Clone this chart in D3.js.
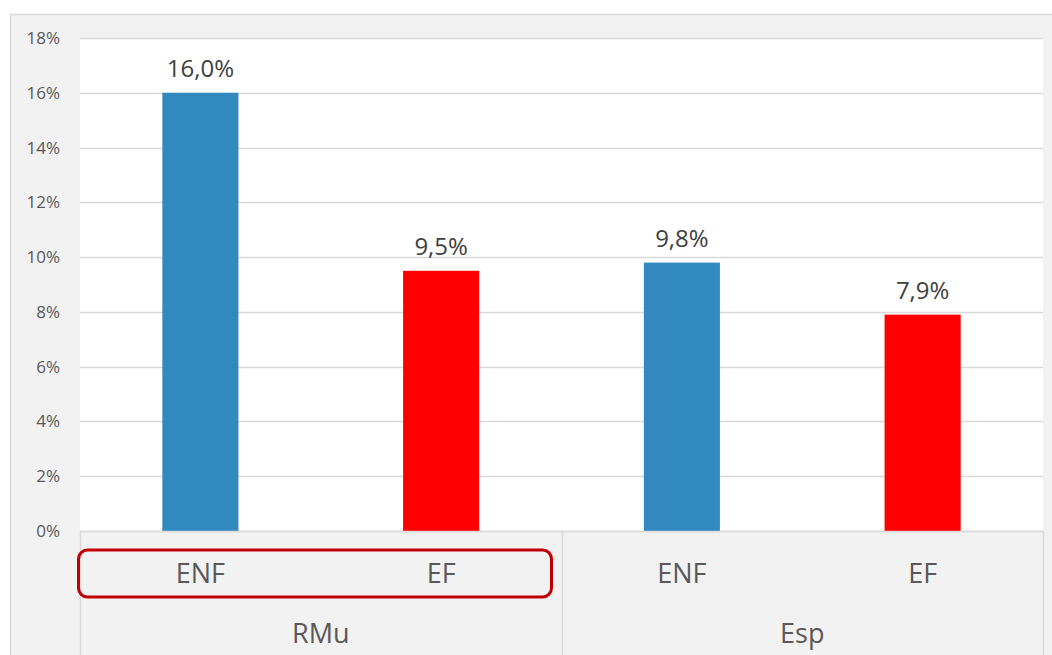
<!DOCTYPE html>
<html>
<head>
<meta charset="utf-8">
<script src="https://cdn.jsdelivr.net/npm/d3@7"></script>
<style>
  body { margin: 0; background: #ffffff; }
  svg { display: block; }
</style>
</head>
<body>
<div id="chart"></div>
<script>
// data
const groups = ["RMu", "Esp"];
const types = ["ENF", "EF"];
const enfValues = [16.0, 9.8];
const efValues = [9.5, 7.9];
const yTicks = [0, 2, 4, 6, 8, 10, 12, 14, 16, 18];
const typeColors = ["#3189bf", "#ff0000"];

const rows = [];
groups.forEach((g, i) => {
  rows.push({ group: g, type: "ENF", value: enfValues[i] });
  rows.push({ group: g, type: "EF", value: efValues[i] });
});

// dimensions
const width = 1052;
const height = 655;
const plot = { left: 80, right: 1043, top: 38, bottom: 531 };
const font = "'Open Sans', 'Noto Sans', sans-serif";

const svg = d3.select("#chart")
  .append("svg")
  .attr("width", width)
  .attr("height", height);

// chart area background
svg.append("rect")
  .attr("x", 10.5)
  .attr("y", 14.5)
  .attr("width", 1100)
  .attr("height", 700)
  .attr("fill", "#f2f2f2")
  .attr("stroke", "#d9d9d9")
  .attr("stroke-width", 1.5);

// plot area
svg.append("rect")
  .attr("x", plot.left)
  .attr("y", plot.top)
  .attr("width", plot.right - plot.left)
  .attr("height", plot.bottom - plot.top)
  .attr("fill", "#ffffff");

// scales
const x0 = d3.scaleBand()
  .domain(groups)
  .range([plot.left, plot.right]);

const x1 = d3.scaleBand()
  .domain(types)
  .range([0, x0.bandwidth()])
  .paddingInner(0.684)
  .paddingOuter(0.342);

const y = d3.scaleLinear()
  .domain([0, 18])
  .range([plot.bottom, plot.top]);

const color = d3.scaleOrdinal()
  .domain(types)
  .range(typeColors);

// grid lines
svg.append("g")
  .selectAll("line")
  .data(yTicks)
  .join("line")
  .attr("x1", plot.left)
  .attr("x2", plot.right)
  .attr("y1", d => Math.round(y(d)) + 0.5)
  .attr("y2", d => Math.round(y(d)) + 0.5)
  .attr("stroke", "#d9d9d9")
  .attr("stroke-width", 1.5);

// Y axis
const yAxis = svg.append("g")
  .attr("transform", `translate(${plot.left - 20}, 0)`)
  .call(d3.axisLeft(y)
    .tickValues(yTicks)
    .tickSize(0)
    .tickPadding(0)
    .tickFormat(d => d + "%"));
yAxis.select(".domain").remove();
yAxis.selectAll("text")
  .style("font-family", font)
  .style("font-size", "17px")
  .attr("fill", "#595959");

// bars
svg.append("g")
  .selectAll("rect")
  .data(rows)
  .join("rect")
  .attr("x", d => x0(d.group) + x1(d.type))
  .attr("y", d => y(d.value))
  .attr("width", x1.bandwidth())
  .attr("height", d => y(0) - y(d.value))
  .attr("fill", d => color(d.type));

// data labels
svg.append("g")
  .selectAll("text")
  .data(rows)
  .join("text")
  .attr("x", d => x0(d.group) + x1(d.type) + x1.bandwidth() / 2)
  .attr("y", d => y(d.value) - 16)
  .attr("text-anchor", "middle")
  .style("font-family", font)
  .style("font-size", "24px")
  .attr("fill", "#404040")
  .text(d => d.value.toFixed(1).replace(".", ",") + "%");

// category axis (two levels)
const axisG = svg.append("g");
axisG.append("line")
  .attr("x1", plot.left)
  .attr("x2", plot.right)
  .attr("y1", plot.bottom + 0.5)
  .attr("y2", plot.bottom + 0.5)
  .attr("stroke", "#d9d9d9")
  .attr("stroke-width", 1.5);

const dividers = groups.map(g => x0(g)).concat([plot.right]);
axisG.selectAll(".divider")
  .data(dividers)
  .join("line")
  .attr("class", "divider")
  .attr("x1", d => Math.round(d) + 0.5)
  .attr("x2", d => Math.round(d) + 0.5)
  .attr("y1", plot.bottom)
  .attr("y2", height)
  .attr("stroke", "#d9d9d9")
  .attr("stroke-width", 1.5);

axisG.selectAll(".type-label")
  .data(rows)
  .join("text")
  .attr("class", "type-label")
  .attr("x", d => x0(d.group) + x1(d.type) + x1.bandwidth() / 2)
  .attr("y", 583)
  .attr("text-anchor", "middle")
  .style("font-family", font)
  .style("font-size", "27px")
  .attr("fill", "#595959")
  .text(d => d.type);

axisG.selectAll(".group-label")
  .data(groups)
  .join("text")
  .attr("class", "group-label")
  .attr("x", d => x0(d) + x0.bandwidth() / 2)
  .attr("y", 643)
  .attr("text-anchor", "middle")
  .style("font-family", font)
  .style("font-size", "27px")
  .attr("fill", "#595959")
  .text(d => d);

// highlight box round first group labels
svg.append("rect")
  .attr("x", x0("RMu") - 1.5)
  .attr("y", 550)
  .attr("width", x0.bandwidth() - 8.5)
  .attr("height", 47)
  .attr("rx", 9)
  .attr("fill", "none")
  .attr("stroke", "#c00000")
  .attr("stroke-width", 3);
</script>
</body>
</html>
